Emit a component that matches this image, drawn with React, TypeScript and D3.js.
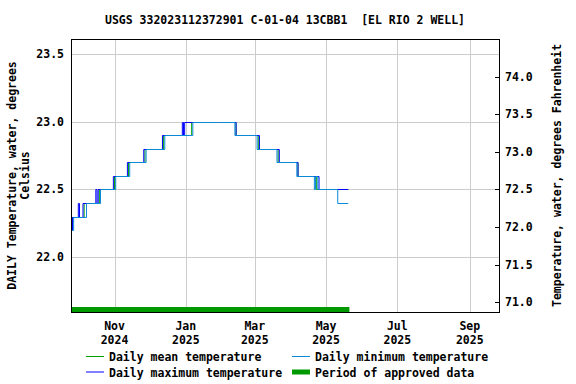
import * as d3 from "d3";

// change points (date, value) for each daily series; a value holds until the next change
const maxSteps: [string, number][] = [
  ["2024-09-25", 22.2], ["2024-09-26", 22.3], ["2024-10-01", 22.4], ["2024-10-02", 22.3],
  ["2024-10-05", 22.4], ["2024-10-16", 22.5], ["2024-10-17", 22.4], ["2024-10-18", 22.5],
  ["2024-10-31", 22.6], ["2024-11-12", 22.7], ["2024-11-26", 22.8], ["2024-12-12", 22.9],
  ["2024-12-29", 23.0], ["2024-12-30", 22.9], ["2024-12-31", 23.0], ["2025-02-13", 22.9],
  ["2025-03-05", 22.8], ["2025-03-22", 22.7], ["2025-04-07", 22.6], ["2025-04-25", 22.5],
];
const meanSteps: [string, number][] = [
  ["2024-09-25", 22.2], ["2024-09-26", 22.3], ["2024-10-06", 22.4], ["2024-10-19", 22.5],
  ["2024-11-01", 22.6], ["2024-11-13", 22.7], ["2024-11-27", 22.8], ["2024-12-13", 22.9],
  ["2025-01-06", 23.0], ["2025-02-13", 22.9], ["2025-03-04", 22.8], ["2025-03-21", 22.7],
  ["2025-04-07", 22.6], ["2025-04-23", 22.5],
];
const minSteps: [string, number][] = [
  ["2024-09-25", 22.2], ["2024-09-27", 22.3], ["2024-10-08", 22.4], ["2024-10-20", 22.5],
  ["2024-11-02", 22.6], ["2024-11-14", 22.7], ["2024-11-28", 22.8], ["2024-12-14", 22.9],
  ["2025-01-07", 23.0], ["2025-02-12", 22.9], ["2025-03-03", 22.8], ["2025-03-20", 22.7],
  ["2025-04-06", 22.6], ["2025-04-21", 22.5], ["2025-04-22", 22.6], ["2025-04-24", 22.5],
  ["2025-05-11", 22.4],
];
const dataEnd = "2025-05-20";
const missingDay = "2025-01-28";
const approved = ["2024-09-25", "2025-05-21"];

const xDomain = ["2024-09-25", "2025-09-26"];
const yDomainC = [21.595, 23.611];
const leftTicks = [22.0, 22.5, 23.0, 23.5];
const rightTicks = [71.0, 71.5, 72.0, 72.5, 73.0, 73.5, 74.0];
const monthTicks = ["2024-11-01", "2025-01-01", "2025-03-01", "2025-05-01", "2025-07-01", "2025-09-01"];

const title = "USGS 332023112372901 C-01-04 13CBB1  [EL RIO 2 WELL]";
const legendItems = [
  { label: "Daily mean temperature", color: "#00a000", width: 1, col: 0, row: 0 },
  { label: "Daily minimum temperature", color: "#0a8ad6", width: 1, col: 1, row: 0 },
  { label: "Daily maximum temperature", color: "#0000ff", width: 1, col: 0, row: 1 },
  { label: "Period of approved data", color: "#009900", width: 5, col: 1, row: 1 },
];

const parse = d3.utcParse("%Y-%m-%d");
const P = (s: string) => parse(s) as Date;

const margin = { left: 71, right: 499, top: 39, bottom: 312 };
const font = "'DejaVu Sans Mono', monospace";

export default function App() {
  const x = d3.scaleUtc().domain(xDomain.map(P)).range([margin.left + 0.3, margin.right]);
  const y = d3.scaleLinear().domain(yDomainC).range([margin.bottom, margin.top]);
  const yF = d3
    .scaleLinear()
    .domain(yDomainC.map((c) => c * 1.8 + 32))
    .range([margin.bottom, margin.top]);

  const line = d3
    .line<[Date, number]>()
    .x((d) => x(d[0]))
    .y((d) => Math.round(y(d[1])) + 0.5)
    .curve(d3.curveStepAfter);

  // split step series around the missing day and close it at the data end
  const segments = (steps: [string, number][]) => {
    const gapStart = P(missingDay);
    const gapEnd = d3.utcDay.offset(gapStart, 1);
    const pts: [Date, number][] = steps.map((s) => [P(s[0]), s[1]]);
    const valueAt = (t: Date) => {
      let v = pts[0][1];
      for (const p of pts) if (p[0] <= t) v = p[1];
      return v;
    };
    const a: [Date, number][] = pts.filter((p) => p[0] < gapStart);
    a.push([gapStart, valueAt(gapStart)]);
    const b: [Date, number][] = [[gapEnd, valueAt(gapEnd)]];
    pts.filter((p) => p[0] > gapEnd).forEach((p) => b.push(p));
    b.push([P(dataEnd), pts[pts.length - 1][1]]);
    return [a, b];
  };

  const series = [
    { steps: meanSteps, color: legendItems[0].color },
    { steps: maxSteps, color: legendItems[2].color },
    { steps: minSteps, color: legendItems[1].color },
  ];

  return (
    <svg
      width={576}
      height={384}
      style={{ position: "absolute", left: 0, top: 0, background: "#fff" }}
      fontFamily={font}
      fontWeight="bold"
      fontSize={11.5}
    >
      <text x={(margin.left + margin.right) / 2} y={24} textAnchor="middle" style={{ whiteSpace: "pre" }}>
        {title}
      </text>

      {/* grid */}
      {leftTicks.map((t) => (
        <line key={"h" + t} x1={margin.left} x2={margin.right} y1={Math.round(y(t)) + 0.5} y2={Math.round(y(t)) + 0.5} stroke="#cccccc" />
      ))}
      {monthTicks.map((m) => (
        <line key={"v" + m} x1={Math.round(x(P(m))) + 0.5} x2={Math.round(x(P(m))) + 0.5} y1={margin.top} y2={margin.bottom} stroke="#cccccc" />
      ))}

      {/* approved period bar */}
      <line
        x1={x(P(approved[0]))}
        x2={x(P(approved[1]))}
        y1={margin.bottom - 2.5}
        y2={margin.bottom - 2.5}
        stroke={legendItems[3].color}
        strokeWidth={5}
      />

      {series.map((s, i) =>
        segments(s.steps).map((seg, j) => (
          <path key={i + "-" + j} d={line(seg) || ""} fill="none" stroke={s.color} strokeWidth={1} />
        ))
      )}

      <rect
        x={margin.left + 0.5}
        y={margin.top + 0.5}
        width={margin.right - margin.left}
        height={margin.bottom - margin.top}
        fill="none"
        stroke="#000"
      />

      {/* left axis */}
      {leftTicks.map((t) => (
        <text key={"l" + t} x={64} y={y(t) + 4} textAnchor="end">
          {d3.format(".1f")(t)}
        </text>
      ))}
      <text transform={`translate(16,${(margin.top + margin.bottom) / 2}) rotate(-90)`} textAnchor="middle">
        DAILY Temperature, water, degrees
      </text>
      <text transform={`translate(29,${(margin.top + margin.bottom) / 2}) rotate(-90)`} textAnchor="middle">
        Celsius
      </text>

      {/* right axis */}
      {rightTicks.map((t) => (
        <g key={"r" + t}>
          <line x1={margin.right - 4} x2={margin.right} y1={Math.round(yF(t)) + 0.5} y2={Math.round(yF(t)) + 0.5} stroke="#000" />
          <text x={505} y={yF(t) + 4}>
            {d3.format(".1f")(t)}
          </text>
        </g>
      ))}
      <text transform={`translate(561,${(margin.top + margin.bottom) / 2}) rotate(-90)`} textAnchor="middle">
        Temperature, water, degrees Fahrenheit
      </text>

      {/* bottom axis */}
      {monthTicks.map((m) => (
        <g key={"b" + m}>
          <text x={x(P(m))} y={329.5} textAnchor="middle">
            {d3.utcFormat("%b")(P(m))}
          </text>
          <text x={x(P(m))} y={343.5} textAnchor="middle">
            {d3.utcFormat("%Y")(P(m))}
          </text>
        </g>
      ))}

      {/* legend */}
      {legendItems.map((it) => {
        const lx = it.col === 0 ? 86 : 292;
        const ly = it.row === 0 ? 356.5 : 372;
        return (
          <g key={it.label}>
            <line x1={lx} x2={lx + 18} y1={ly} y2={ly} stroke={it.color} strokeWidth={it.width} />
            <text x={lx + 23} y={ly + 4.5}>
              {it.label}
            </text>
          </g>
        );
      })}
    </svg>
  );
}
